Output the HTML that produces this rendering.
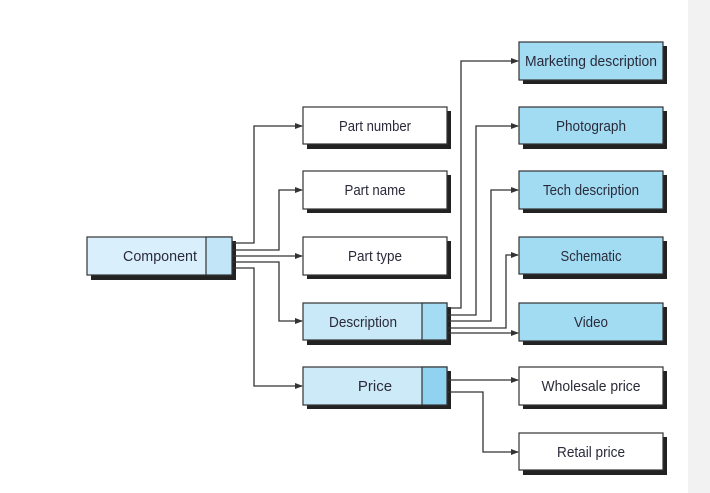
<!DOCTYPE html>
<html><head><style>
html,body{margin:0;padding:0;background:#fff;}
svg{display:block}
text{font-family:"Liberation Sans",sans-serif;font-size:15px;fill:#2a2a3a;text-anchor:middle;}
</style></head><body>
<svg width="710" height="493" viewBox="0 0 710 493" xmlns="http://www.w3.org/2000/svg">
<defs><marker id="a" markerWidth="8" markerHeight="6" refX="7" refY="3" orient="auto" markerUnits="userSpaceOnUse"><path d="M0,0 L8,3 L0,6z" fill="#333"/></marker></defs>
<rect x="688" y="0" width="22" height="493" fill="#f2f2f2"/>
<g fill="#222">
<rect x="91" y="241" width="145" height="39"/>
<rect x="307" y="111" width="144" height="38"/><rect x="307" y="175" width="144" height="38"/><rect x="307" y="241" width="144" height="38"/><rect x="307" y="307" width="144" height="38"/><rect x="307" y="371" width="144" height="38"/>
<rect x="523" y="46" width="144" height="38"/><rect x="523" y="111" width="144" height="38"/><rect x="523" y="175" width="144" height="38"/><rect x="523" y="241" width="144" height="38"/><rect x="523" y="307" width="144" height="38"/><rect x="523" y="371" width="144" height="38"/><rect x="523" y="437" width="144" height="38"/>
</g>
<g stroke="#333" stroke-width="1.2">
<rect x="87" y="237" width="145" height="38" fill="#d9effb"/><rect x="206" y="237" width="26" height="38" fill="#c3e5f8"/>
<rect x="303" y="107" width="144" height="37" fill="#fff"/>
<rect x="303" y="171" width="144" height="38" fill="#fff"/>
<rect x="303" y="237" width="144" height="38" fill="#fff"/>
<rect x="303" y="303" width="144" height="37" fill="#c9e9f8"/><rect x="422" y="303" width="25" height="37" fill="#a3dcf3"/>
<rect x="303" y="367" width="144" height="38" fill="#cdeaf9"/><rect x="422" y="367" width="25" height="38" fill="#8fd3f0"/>
<rect x="519" y="42" width="144" height="38" fill="#a2dcf3"/>
<rect x="519" y="107" width="144" height="37" fill="#a2dcf3"/>
<rect x="519" y="171" width="144" height="38" fill="#a2dcf3"/>
<rect x="519" y="237" width="144" height="37" fill="#a2dcf3"/>
<rect x="519" y="303" width="144" height="38" fill="#a2dcf3"/>
<rect x="519" y="367" width="144" height="38" fill="#fff"/>
<rect x="519" y="433" width="144" height="37" fill="#fff"/>
</g>
<g fill="none" stroke="#333" stroke-width="1.3" marker-end="url(#a)">
<path d="M232,243 H254 V126 H302"/>
<path d="M232,250 H279 V190 H302"/>
<path d="M232,256 H302"/>
<path d="M232,262 H279 V321 H302"/>
<path d="M232,268 H254 V386 H302"/>
<path d="M447,308 H461 V61 H518"/>
<path d="M447,315 H476 V126 H518"/>
<path d="M447,321 H491 V190 H518"/>
<path d="M447,328 H506 V255 H518"/>
<path d="M447,333 H518"/>
<path d="M447,380 H518"/>
<path d="M447,392 H483 V452 H518"/>
</g>
<text x="160" y="261" textLength="74" lengthAdjust="spacingAndGlyphs">Component</text>
<text x="375" y="131" textLength="72" lengthAdjust="spacingAndGlyphs">Part number</text>
<text x="375" y="195" textLength="61" lengthAdjust="spacingAndGlyphs">Part name</text>
<text x="375" y="261" textLength="54" lengthAdjust="spacingAndGlyphs">Part type</text>
<text x="363" y="327" textLength="68" lengthAdjust="spacingAndGlyphs">Description</text>
<text x="375" y="391">Price</text>
<text x="591" y="66" textLength="132" lengthAdjust="spacingAndGlyphs">Marketing description</text>
<text x="591" y="131" textLength="70" lengthAdjust="spacingAndGlyphs">Photograph</text>
<text x="591" y="195" textLength="96" lengthAdjust="spacingAndGlyphs">Tech description</text>
<text x="591" y="261" textLength="61" lengthAdjust="spacingAndGlyphs">Schematic</text>
<text x="591" y="327" textLength="34" lengthAdjust="spacingAndGlyphs">Video</text>
<text x="591" y="391" textLength="99" lengthAdjust="spacingAndGlyphs">Wholesale price</text>
<text x="591" y="457" textLength="68" lengthAdjust="spacingAndGlyphs">Retail price</text>
</svg>
</body></html>
